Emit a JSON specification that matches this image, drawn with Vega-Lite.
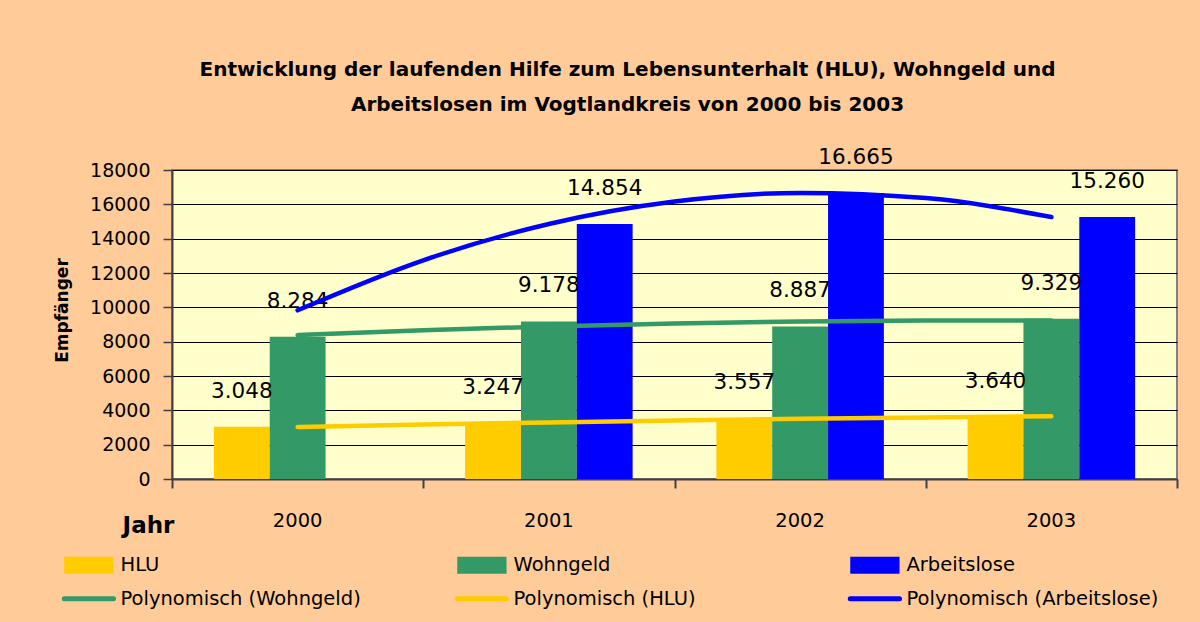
{
  "$schema": "https://vega.github.io/schema/vega-lite/v6.json",
  "width": 1005,
  "height": 309,
  "autosize": {"type": "none"},
  "padding": {"left": 172, "top": 170, "right": 23, "bottom": 143},
  "background": "#FFCC99",
  "config": {
    "font": "DejaVu Sans",
    "view": {"fill": "#FFFFCC", "stroke": "#808080", "strokeWidth": 2},
    "locale": {"number": {"decimal": ",", "thousands": ".", "grouping": [3], "currency": ["", " €"]}}
  },
  "title": {
    "text": ["Entwicklung der laufenden Hilfe zum Lebensunterhalt (HLU), Wohngeld und", "Arbeitslosen im Vogtlandkreis von 2000 bis 2003"],
    "font": "DejaVu Sans",
    "fontSize": 20,
    "fontWeight": "bold",
    "lineHeight": 35,
    "anchor": "middle",
    "dx": -47,
    "offset": 32,
    "color": "black"
  },
  "datasets": {
    "bars": [
      {"jahr": "2000", "serie": "HLU", "wert": 3048},
      {"jahr": "2000", "serie": "Wohngeld", "wert": 8284},
      {"jahr": "2001", "serie": "HLU", "wert": 3247},
      {"jahr": "2001", "serie": "Wohngeld", "wert": 9178},
      {"jahr": "2001", "serie": "Arbeitslose", "wert": 14854},
      {"jahr": "2002", "serie": "HLU", "wert": 3557},
      {"jahr": "2002", "serie": "Wohngeld", "wert": 8887},
      {"jahr": "2002", "serie": "Arbeitslose", "wert": 16665},
      {"jahr": "2003", "serie": "HLU", "wert": 3640},
      {"jahr": "2003", "serie": "Wohngeld", "wert": 9329},
      {"jahr": "2003", "serie": "Arbeitslose", "wert": 15260}
    ],
    "trends": [
      {"serie": "Polynomisch (HLU)", "pos": 2000, "wert": 3031},
      {"serie": "Polynomisch (HLU)", "pos": 2000.5, "wert": 3172},
      {"serie": "Polynomisch (HLU)", "pos": 2001, "wert": 3298},
      {"serie": "Polynomisch (HLU)", "pos": 2001.5, "wert": 3409},
      {"serie": "Polynomisch (HLU)", "pos": 2002, "wert": 3506},
      {"serie": "Polynomisch (HLU)", "pos": 2002.5, "wert": 3589},
      {"serie": "Polynomisch (HLU)", "pos": 2003, "wert": 3657},
      {"serie": "Polynomisch (Wohngeld)", "pos": 2000, "wert": 8380},
      {"serie": "Polynomisch (Wohngeld)", "pos": 2000.5, "wert": 8663},
      {"serie": "Polynomisch (Wohngeld)", "pos": 2001, "wert": 8890},
      {"serie": "Polynomisch (Wohngeld)", "pos": 2001.5, "wert": 9061},
      {"serie": "Polynomisch (Wohngeld)", "pos": 2002, "wert": 9175},
      {"serie": "Polynomisch (Wohngeld)", "pos": 2002.5, "wert": 9232},
      {"serie": "Polynomisch (Wohngeld)", "pos": 2003, "wert": 9233},
      {"serie": "Polynomisch (Arbeitslose)", "pos": 2000, "wert": 9827},
      {"serie": "Polynomisch (Arbeitslose)", "pos": 2000.5, "wert": 12742},
      {"serie": "Polynomisch (Arbeitslose)", "pos": 2001, "wert": 14854},
      {"serie": "Polynomisch (Arbeitslose)", "pos": 2001.5, "wert": 16161},
      {"serie": "Polynomisch (Arbeitslose)", "pos": 2002, "wert": 16665},
      {"serie": "Polynomisch (Arbeitslose)", "pos": 2002.5, "wert": 16364},
      {"serie": "Polynomisch (Arbeitslose)", "pos": 2003, "wert": 15260}
    ]
  },
  "encoding": {
    "y": {
      "field": "wert", "type": "quantitative",
      "scale": {"domain": [0, 18000], "nice": false},
      "axis": {
        "values": [0, 2000, 4000, 6000, 8000, 10000, 12000, 14000, 16000, 18000],
        "format": "d",
        "labelOverlap": false,
        "labelFontSize": 19,
        "labelColor": "black",
        "labelPadding": 13,
        "tickSize": 9,
        "tickColor": "#404040",
        "tickWidth": 1.5,
        "domainColor": "#404040",
        "domainWidth": 2,
        "gridColor": "#000000",
        "gridWidth": 1,
        "gridOpacity": 1,
        "title": "Empfänger",
        "titleFontSize": 17,
        "titleFontWeight": "bold",
        "titleColor": "black",
        "titlePadding": 18,
        "titleY": 140,
        "titleAlign": "center"
      }
    }
  },
  "layer": [
    {
      "data": {"name": "bars"},
      "mark": {"type": "bar"},
      "encoding": {
        "x": {
          "field": "jahr", "type": "nominal",
          "scale": {"paddingInner": 0.3333, "paddingOuter": 0.1667},
          "axis": {
            "orient": "bottom",
            "labelAngle": 0,
            "labelFontSize": 19.5,
            "labelColor": "black",
            "labelPadding": 32,
            "ticks": false,
            "domainColor": "#404040",
            "domainWidth": 2,
            "title": "Jahr",
            "titleFontSize": 23,
            "titleFontWeight": "bold",
            "titleColor": "black",
            "titleX": -24,
            "titleY": 46,
            "titleAlign": "center",
            "titleBaseline": "middle"
          }
        },
        "xOffset": {"field": "serie", "type": "nominal", "scale": {"domain": ["HLU", "Wohngeld", "Arbeitslose"], "paddingInner": 0, "paddingOuter": 0}},
        "color": {
          "field": "serie", "type": "nominal",
          "scale": {
            "domain": ["HLU", "Polynomisch (Wohngeld)", "Wohngeld", "Polynomisch (HLU)", "Arbeitslose", "Polynomisch (Arbeitslose)"],
            "range": ["#FFCC00", "#339966", "#339966", "#FFCC00", "#0000FF", "#0000FF"]
          },
          "legend": {
            "orient": "none",
            "legendX": -109,
            "legendY": 385,
            "columns": 3,
            "gridAlign": "all",
            "columnPadding": 74,
            "rowPadding": 13,
            "title": null,
            "labelFontSize": 19.5,
            "labelColor": "black",
            "labelLimit": 500,
            "labelOffset": 38,
            "symbolSize": 289,
            "symbolType": "M-1,-1H4.8V1H-1Z",
            "encode": {
              "symbols": {
                "update": {
                  "shape": {"signal": "indexof(['HLU','Wohngeld','Arbeitslose'], datum.value) >= 0 ? 'M-1,-1H4.8V1H-1Z' : 'M-1,0H4.8'"},
                  "fill": {"signal": "indexof(['HLU','Wohngeld','Arbeitslose'], datum.value) >= 0 ? scale('color', datum.value) : 'transparent'"},
                  "stroke": {"signal": "scale('color', datum.value)"},
                  "strokeWidth": {"signal": "indexof(['HLU','Wohngeld','Arbeitslose'], datum.value) >= 0 ? 0 : 5"},
                  "strokeCap": {"value": "round"},
                  "opacity": {"value": 1}
                }
              }
            }
          }
        }
      }
    },
    {
      "data": {"name": "bars"},
      "mark": {"type": "text", "dy": -35, "fontSize": 21.5, "baseline": "middle", "align": "center", "color": "black"},
      "encoding": {
        "x": {"field": "jahr", "type": "nominal", "scale": {"paddingInner": 0.3333, "paddingOuter": 0.1667}, "axis": null},
        "xOffset": {"field": "serie", "type": "nominal", "scale": {"domain": ["HLU", "Wohngeld", "Arbeitslose"], "paddingInner": 0, "paddingOuter": 0}},
        "text": {"field": "wert", "type": "quantitative", "format": ",d"}
      }
    },
    {
      "data": {"name": "trends"},
      "mark": {"type": "line", "strokeWidth": 4.5, "interpolate": "monotone", "strokeCap": "round"},
      "encoding": {
        "x": {
          "field": "pos", "type": "quantitative",
          "scale": {"domain": [1999.5, 2003.5], "nice": false, "zero": false},
          "axis": {
            "orient": "bottom",
            "values": [1999.5, 2000.5, 2001.5, 2002.5, 2003.5],
            "labels": false,
            "domain": false,
            "grid": false,
            "tickSize": 9,
            "tickWidth": 2,
            "tickColor": "#404040",
            "title": null
          }
        },
        "color": {"field": "serie", "type": "nominal"}
      }
    }
  ],
  "resolve": {"scale": {"x": "independent"}, "axis": {"x": "independent"}}
}
